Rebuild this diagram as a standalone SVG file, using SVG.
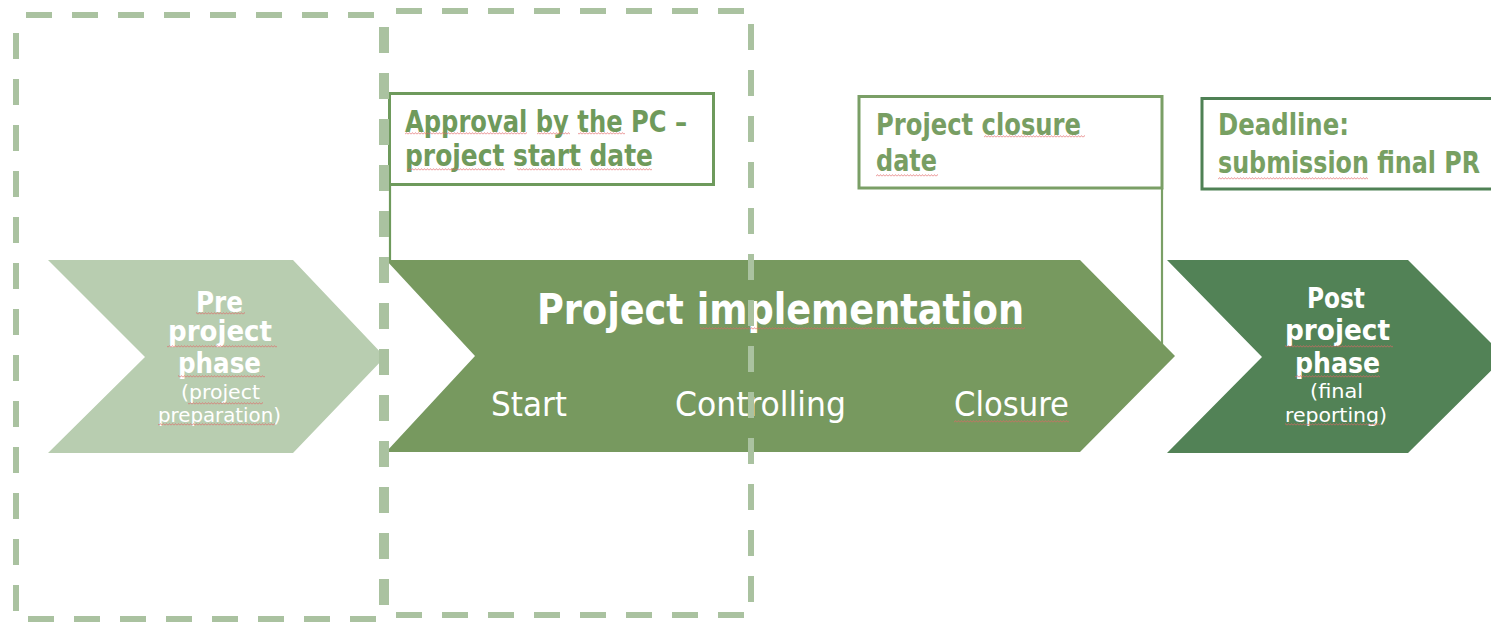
<svg xmlns="http://www.w3.org/2000/svg" width="1491" height="622" viewBox="0 0 1491 622">
<defs>
<style>
.frame{fill:none;stroke:#aac2a0;stroke-width:6;stroke-dasharray:26 20;stroke-dashoffset:36}
.box{fill:#ffffff;stroke-width:3}
.conn{stroke-width:2.2;fill:none}
.bt{font-family:"DejaVu Sans Condensed","DejaVu Sans",sans-serif;font-weight:bold;font-size:31px}
.wt{font-family:"DejaVu Sans Condensed","DejaVu Sans",sans-serif;fill:#ffffff}
.big{font-size:28px;font-weight:bold}
.small{font-size:20px}
.title{font-size:42px;font-weight:bold}
.sub{font-size:33px}
.sq{fill:url(#squiggle);opacity:0.85}
</style>
<pattern id="squiggle" width="3" height="3" patternUnits="userSpaceOnUse">
<path d="M0 2.4 L1.5 0.6 L3 2.4" stroke="#e06464" stroke-width="0.8" fill="none"/>
</pattern>
</defs>
<rect width="1491" height="622" fill="#ffffff"/>

<g id="connectors">
<line class="conn" x1="390" y1="184" x2="390" y2="262" stroke="#6e9a5c"/>
<line class="conn" x1="1162" y1="188" x2="1162" y2="345" stroke="#7a9f66"/>
</g>

<g id="node-pre">
<polygon points="48,260 293,260 385,357 293,453 48,453 145,357" fill="#b8cdb0"/>
<text class="wt big" x="196" y="312" textLength="47" lengthAdjust="spacingAndGlyphs">Pre</text>
<text class="wt big" x="168" y="341" textLength="104" lengthAdjust="spacingAndGlyphs">project</text>
<text class="wt big" x="178" y="373" textLength="83" lengthAdjust="spacingAndGlyphs">phase</text>
<text class="wt small" x="181" y="399" textLength="79" lengthAdjust="spacingAndGlyphs">(project</text>
<text class="wt small" x="158" y="422" textLength="123" lengthAdjust="spacingAndGlyphs">preparation)</text>
</g>

<g id="node-implementation">
<polygon points="386,260 1080,260 1175,356 1080,452 386,452 475,356" fill="#77995f"/>
<text class="wt title" x="537" y="324" textLength="487" lengthAdjust="spacingAndGlyphs">Project implementation</text>
<text class="wt sub" x="491" y="416" textLength="76" lengthAdjust="spacingAndGlyphs">Start</text>
<text class="wt sub" x="675" y="416" textLength="171" lengthAdjust="spacingAndGlyphs">Controlling</text>
<text class="wt sub" x="954" y="416" textLength="115" lengthAdjust="spacingAndGlyphs">Closure</text>
</g>

<g id="node-post">
<polygon points="1167,260 1408,260 1505,357 1408,453 1167,453 1262,357" fill="#528256"/>
<text class="wt big" x="1307" y="308" textLength="58" lengthAdjust="spacingAndGlyphs">Post</text>
<text class="wt big" x="1285" y="340" textLength="105" lengthAdjust="spacingAndGlyphs">project</text>
<text class="wt big" x="1295" y="373" textLength="85" lengthAdjust="spacingAndGlyphs">phase</text>
<text class="wt small" x="1310" y="398" textLength="53" lengthAdjust="spacingAndGlyphs">(final</text>
<text class="wt small" x="1285" y="422" textLength="102" lengthAdjust="spacingAndGlyphs">reporting)</text>
</g>

<g id="node-approval">
<rect class="box" x="389.5" y="93.5" width="324" height="91" stroke="#6e9a5c"/>
<text class="bt" x="405" y="132" fill="#6f9a5b" textLength="282" lengthAdjust="spacingAndGlyphs">Approval by the PC –</text>
<text class="bt" x="405" y="166" fill="#6f9a5b" textLength="248" lengthAdjust="spacingAndGlyphs">project start date</text>
</g>

<g id="node-closure">
<rect class="box" x="859" y="96.5" width="303" height="91.5" stroke="#7a9f66"/>
<text class="bt" x="876" y="135" fill="#789e63" textLength="205" lengthAdjust="spacingAndGlyphs">Project closure</text>
<text class="bt" x="876" y="171" fill="#789e63" textLength="61" lengthAdjust="spacingAndGlyphs">date</text>
</g>

<g id="node-deadline">
<rect class="box" x="1202" y="98.5" width="300" height="90.5" stroke="#4f8155" stroke-width="3.5"/>
<text class="bt" x="1218" y="135" fill="#77a062" textLength="131" lengthAdjust="spacingAndGlyphs">Deadline:</text>
<text class="bt" x="1218" y="173" fill="#77a062" textLength="262" lengthAdjust="spacingAndGlyphs">submission final PR</text>
</g>

<g id="phase-frames">
<rect class="frame" x="16" y="15" width="366" height="604"/>
<rect class="frame" x="386" y="11" width="365" height="604"/>
</g>

<g id="spellcheck">
<rect class="sq" x="405" y="132" width="122" height="3"/>
<rect class="sq" x="537" y="132" width="33" height="3"/>
<rect class="sq" x="578" y="132" width="47" height="3"/>
<rect class="sq" x="407" y="168" width="98" height="3"/>
<rect class="sq" x="517" y="168" width="65" height="3"/>
<rect class="sq" x="590" y="168" width="62" height="3"/>
<rect class="sq" x="984" y="135" width="101" height="3"/>
<rect class="sq" x="876" y="174" width="62" height="3"/>
<rect class="sq" x="1218" y="177" width="150" height="3"/>
<rect class="sq" x="196" y="312" width="49" height="3"/>
<rect class="sq" x="167" y="345" width="110" height="3"/>
<rect class="sq" x="178" y="375" width="87" height="3"/>
<rect class="sq" x="188" y="402" width="75" height="3"/>
<rect class="sq" x="158" y="423" width="117" height="3"/>
<rect class="sq" x="700" y="327" width="325" height="3"/>
<rect class="sq" x="954" y="420" width="115" height="3"/>
<rect class="sq" x="1285" y="345" width="108" height="3"/>
<rect class="sq" x="1295" y="375" width="85" height="3"/>
<rect class="sq" x="1285" y="423" width="95" height="3"/>
</g>
</svg>
